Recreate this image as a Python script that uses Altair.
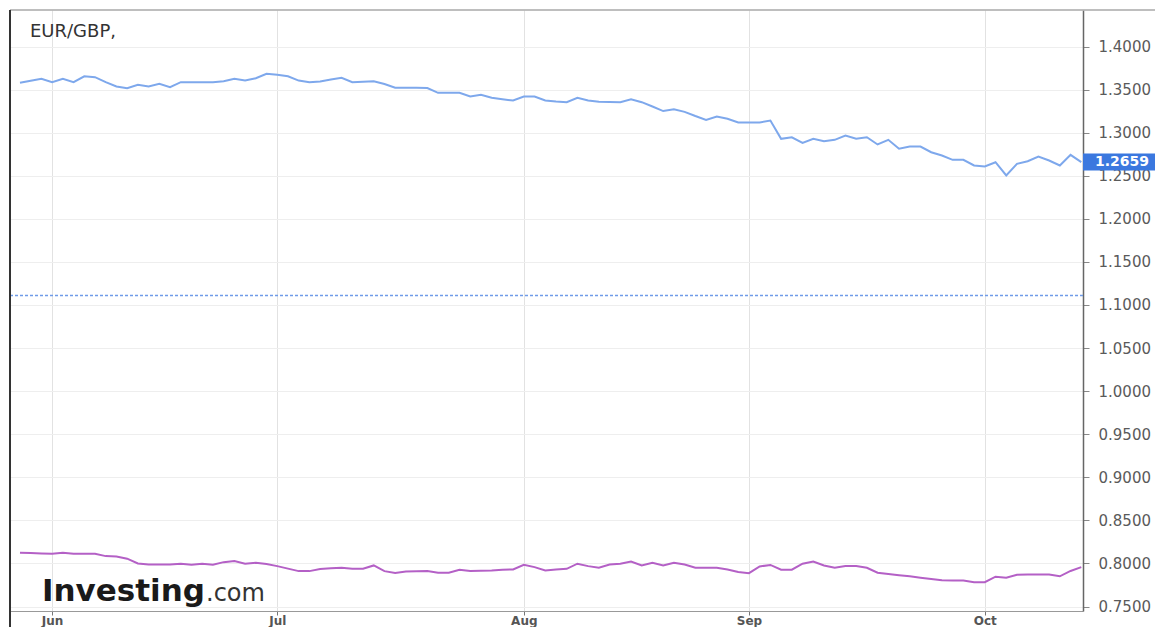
import altair as alt
import pandas as pd

# --- data (one value per trading day, 28 May - 13 Oct) ---
eurusd = [1.3579, 1.3603, 1.3625, 1.3586, 1.3625, 1.3586, 1.3655, 1.3644, 1.3586, 1.3536,
          1.3516, 1.3555, 1.3536, 1.3567, 1.3528, 1.3586, 1.3586, 1.3586, 1.3586, 1.3597,
          1.3625, 1.3605, 1.3632, 1.3683, 1.3672, 1.3655, 1.3605, 1.3586, 1.3594, 1.3617,
          1.3637, 1.3586, 1.3591, 1.3597, 1.3565, 1.3521, 1.3521, 1.3521, 1.3518, 1.3463,
          1.3463, 1.3463, 1.3420, 1.3439, 1.3405, 1.3388, 1.3373, 1.3420, 1.3420, 1.3373,
          1.3362, 1.3354, 1.3405, 1.3373, 1.3358, 1.3356, 1.3354, 1.3388, 1.3354, 1.3304,
          1.3251, 1.3272, 1.3242, 1.3193, 1.3149, 1.3188, 1.3161, 1.3118, 1.3118, 1.3118,
          1.3141, 1.2929, 1.2947, 1.2882, 1.2929, 1.2901, 1.2917, 1.2967, 1.2929, 1.2947,
          1.2863, 1.2917, 1.2813, 1.2839, 1.2839, 1.2773, 1.2735, 1.2685, 1.2685, 1.2619,
          1.2607, 1.2657, 1.2503, 1.2639, 1.2669, 1.2723, 1.2677, 1.2619, 1.2743, 1.2659]

eurgbp = [0.8124, 0.8121, 0.8116, 0.8113, 0.8124, 0.8113, 0.8113, 0.8113, 0.8085, 0.8081,
          0.8055, 0.8000, 0.7988, 0.7988, 0.7988, 0.7997, 0.7985, 0.7997, 0.7985, 0.8015,
          0.8027, 0.7997, 0.8008, 0.7994, 0.7969, 0.7940, 0.7911, 0.7911, 0.7936, 0.7944,
          0.7950, 0.7938, 0.7938, 0.7977, 0.7911, 0.7890, 0.7907, 0.7909, 0.7911, 0.7892,
          0.7892, 0.7927, 0.7911, 0.7915, 0.7919, 0.7927, 0.7930, 0.7985, 0.7957, 0.7919,
          0.7930, 0.7938, 0.7997, 0.7969, 0.7950, 0.7988, 0.7997, 0.8023, 0.7977, 0.8008,
          0.7977, 0.8008, 0.7988, 0.7950, 0.7950, 0.7950, 0.7930, 0.7901, 0.7887, 0.7965,
          0.7983, 0.7927, 0.7927, 0.7997, 0.8023, 0.7977, 0.7950, 0.7969, 0.7969, 0.7950,
          0.7892, 0.7878, 0.7864, 0.7851, 0.7834, 0.7819, 0.7805, 0.7803, 0.7803, 0.7783,
          0.7783, 0.7846, 0.7835, 0.7869, 0.7872, 0.7872, 0.7872, 0.7851, 0.7913, 0.7957]

month_ticks = [3, 24, 47, 68, 90]
month_labels = ["Jun", "Jul", "Aug", "Sep", "Oct"]
y_ticks = [0.75, 0.80, 0.85, 0.90, 0.95, 1.00, 1.05, 1.10, 1.15, 1.20, 1.25, 1.30, 1.35, 1.40]
last_value = 1.2659
last_label = "1.2659"
ref_level = 1.111
title_text = "EUR/GBP,"
logo_main = "Investing"
logo_suffix = ".com"

W, H = 1073, 601
FONT = "DejaVu Sans"

n = len(eurusd)
df = pd.DataFrame({"i": list(range(n)) * 2,
                   "v": eurusd + eurgbp,
                   "pair": ["EUR/USD"] * n + ["EUR/GBP"] * n})

label_expr = "".join(f"datum.value == {t} ? '{l}' : " for t, l in zip(month_ticks, month_labels)) + "''"

xscale = alt.Scale(domain=[-0.93, 99.16], nice=False, zero=False)
yscale = alt.Scale(domain=[0.7448, 1.4424], nice=False, zero=False)

x_enc = alt.X("i:Q", scale=xscale, title=None,
              axis=alt.Axis(values=month_ticks, labelExpr=label_expr, grid=True,
                            gridColor="#e2e2e2", domainColor="#999999", tickColor="#777777",
                            tickSize=4, labelColor="#555555", labelFont=FONT, labelFontSize=12,
                            labelFontWeight="bold", labelPadding=0, labelFlush=False))
y_enc = alt.Y("v:Q", scale=yscale, title=None,
              axis=alt.Axis(orient="right", values=y_ticks, format=".4f", grid=True,
                            gridColor="#eeeeee", domainColor="#666666", domainWidth=1.5,
                            tickColor="#888888", tickSize=6, labelPadding=9,
                            labelColor="#5a5a5a", labelFont=FONT, labelFontSize=15))

lines = alt.Chart(df).mark_line(strokeWidth=2).encode(
    x=x_enc, y=y_enc,
    color=alt.Color("pair:N", scale=alt.Scale(domain=["EUR/USD", "EUR/GBP"],
                                              range=["#7ea8ec", "#b460c6"]), legend=None),
)

ref_rule = alt.Chart(pd.DataFrame({"v": [ref_level]})).mark_rule(
    color="#6f9be8", strokeDash=[3, 2], strokeWidth=1.5
).encode(y=alt.Y("v:Q", scale=yscale, title=None))

half = 8.5 / 43.08 * 0.05
box_df = pd.DataFrame({"v": [last_value], "top": [last_value + half],
                       "bottom": [last_value - half], "label": [last_label]})
box = alt.Chart(box_df).mark_rect(color="#3b78df").encode(
    x=alt.value(W), x2=alt.value(W + 72),
    y=alt.Y("top:Q", scale=yscale, title=None), y2="bottom:Q")
box_text = alt.Chart(box_df).mark_text(
    align="left", baseline="middle", color="white", font=FONT, fontSize=14, fontWeight="bold"
).encode(x=alt.value(W + 12), y=alt.Y("v:Q", scale=yscale, title=None), text="label:N")

frame_top = alt.Chart(pd.DataFrame({"a": [0]})).mark_rule(color="#a8a8a8", strokeWidth=1.5).encode(
    x=alt.value(0), x2=alt.value(W + 74), y=alt.value(0))
frame_left = alt.Chart(pd.DataFrame({"a": [0]})).mark_rule(color="#333333", strokeWidth=2).encode(
    x=alt.value(0), y=alt.value(0), y2=alt.value(H + 24))

title = alt.Chart(pd.DataFrame({"t": [title_text]})).mark_text(
    align="left", baseline="middle", font=FONT, fontSize=18, color="#333333"
).encode(x=alt.value(20), y=alt.value(22), text="t:N")

logo1 = alt.Chart(pd.DataFrame({"t": [logo_main]})).mark_text(
    align="left", baseline="alphabetic", font=FONT, fontSize=31, fontWeight="bold", color="#1a1a1a"
).encode(x=alt.value(32), y=alt.value(591), text="t:N")
logo2 = alt.Chart(pd.DataFrame({"t": [logo_suffix]})).mark_text(
    align="left", baseline="alphabetic", font=FONT, fontSize=24, color="#333333"
).encode(x=alt.value(196), y=alt.value(591), text="t:N")

chart = alt.layer(lines, ref_rule, box, box_text, frame_top, frame_left, title, logo1, logo2).properties(
    width=W, height=H,
    autosize=alt.AutoSizeParams(type="none"),
    padding={"left": 2, "top": 2, "right": 72, "bottom": 16},
    background="white",
).configure_view(stroke=None)

chart.save("out.html", embed_options={"renderer": "svg", "actions": False})
